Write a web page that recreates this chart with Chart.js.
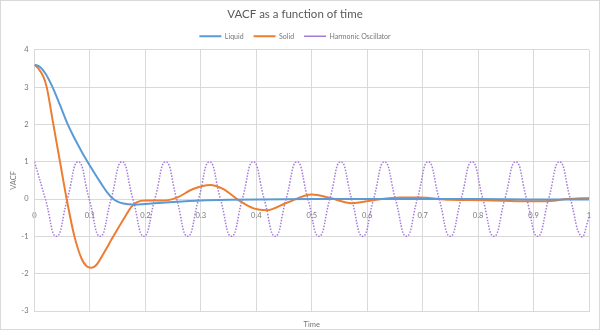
<!DOCTYPE html>
<html lang="en">
<head>
    <meta charset="UTF-8">
    <title>VACF as a function of time</title>
    <script src="https://cdn.jsdelivr.net/npm/chart.js"></script>
    <style>
        body { margin: 0; background: #fff; }
        #moldura { width: 600px; height: 330px; border: 1px solid #d9d9d9; box-sizing: border-box; }
    </style>
</head>
<body>
    <div id="moldura">
        <canvas id="grafico1" width="598" height="328"></canvas>
    </div>

    <script>
        // Liquid
        const liquidTime = [0, 0.01, 0.02, 0.03, 0.04, 0.05, 0.06, 0.07, 0.08, 0.09, 0.1, 0.11, 0.12, 0.13, 0.14, 0.15, 0.16, 0.17, 0.18, 0.2, 0.25, 0.3, 0.35, 0.4, 0.5, 0.6, 0.7, 0.8, 0.9, 1.0]
        const liquidVacf = [3.6, 3.54, 3.36, 3.08, 2.74, 2.37, 2.0, 1.69, 1.41, 1.14, 0.89, 0.65, 0.42, 0.2, 0.03, -0.07, -0.12, -0.14, -0.15, -0.13, -0.08, -0.04, -0.02, -0.01, 0, 0, 0, 0, -0.01, -0.01]

        // Solid
        const solidTime = [0, 0.007, 0.016, 0.022, 0.034, 0.046, 0.058, 0.072, 0.085, 0.094, 0.103, 0.112, 0.121, 0.13, 0.139, 0.15, 0.163, 0.175, 0.185, 0.2, 0.232, 0.257, 0.286, 0.317, 0.34, 0.37, 0.395, 0.419, 0.455, 0.5, 0.533, 0.572, 0.611, 0.66, 0.695, 0.75, 0.81, 0.89, 0.93, 0.96, 1.0]
        const solidVacf = [3.6, 3.5, 3.28, 3.0, 2.0, 1.0, 0.0, -1.0, -1.6, -1.8, -1.84, -1.76, -1.55, -1.32, -1.08, -0.8, -0.48, -0.2, -0.08, -0.04, -0.04, 0.04, 0.27, 0.38, 0.27, -0.05, -0.25, -0.3, -0.1, 0.12, 0.03, -0.11, -0.03, 0.04, 0.04, -0.02, -0.03, -0.06, -0.05, 0, 0.03]

        // Harmonic Oscillator (peaks, zeros and troughs)
        const oscTime = [0, 0.0197, 0.0395, 0.0592, 0.0789, 0.0986, 0.1184, 0.1381, 0.1578, 0.1775,
            0.1973, 0.2170, 0.2367, 0.2564, 0.2762, 0.2959, 0.3156, 0.3353, 0.3551, 0.3748,
            0.3945, 0.4142, 0.4340, 0.4537, 0.4734, 0.4931, 0.5129, 0.5326, 0.5523, 0.5720,
            0.5918, 0.6115, 0.6312, 0.6509, 0.6707, 0.6904, 0.7101, 0.7298, 0.7496, 0.7693,
            0.7890, 0.8087, 0.8285, 0.8482, 0.8679, 0.8876, 0.9074, 0.9271, 0.9468, 0.9665,
            0.9863, 1.0]
        const oscValue = [1, 0, -1, 0, 1, 0, -1, 0, 1, 0,
            -1, 0, 1, 0, -1, 0, 1, 0, -1, 0,
            1, 0, -1, 0, 1, 0, -1, 0, 1, 0,
            -1, 0, 1, 0, -1, 0, 1, 0, -1, 0,
            1, 0, -1, 0, 1, 0, -1, 0, 1, 0,
            -1, -0.5]

        const xTicks = [0, 0.1, 0.2, 0.3, 0.4, 0.5, 0.6, 0.7, 0.8, 0.9, 1]
        const yTicks = [-3, -2, -1, 0, 1, 2, 3, 4]

        const pares = (xs, ys) => xs.map((x, i) => ({x: x, y: ys[i]}))

        const fonte = "Lato, 'Open Sans', sans-serif"
        const cinza = '#d9d9d9'
        const texto = '#767676'

        const ctx = document.getElementById("grafico1")

        let grafico1 = new Chart(ctx, {
          type: 'line',
          data: {
            datasets: [{
              label: 'Liquid',
              data: pares(liquidTime, liquidVacf),
              borderColor: '#5b9bd5',
              borderWidth: 2,
              cubicInterpolationMode: 'monotone',
              pointRadius: 0
            }, {
              label: 'Solid',
              data: pares(solidTime, solidVacf),
              borderColor: '#ed7d31',
              borderWidth: 2,
              cubicInterpolationMode: 'monotone',
              pointRadius: 0
            }, {
              label: 'Harmonic Oscillator',
              data: pares(oscTime, oscValue),
              borderColor: '#a47ad8',
              borderWidth: 1.5,
              borderDash: [1.5, 1.5],
              tension: 0.5,
              pointRadius: 0
            }]
          },
          options: {
            responsive: false,
            animation: false,
            layout: { padding: { top: 0, right: 10, left: 0, bottom: 0 } },
            plugins: {
              title: {
                display: true,
                text: 'VACF as a function of time',
                color: '#595959',
                font: { family: fonte, size: 11.5, weight: 'normal' },
                padding: { top: 6, bottom: 2 }
              },
              legend: {
                labels: {
                  usePointStyle: true,
                  pointStyle: 'line',
                  pointStyleWidth: 22,
                  color: texto,
                  padding: 10,
                  font: { family: fonte, size: 7 }
                }
              },
              tooltip: { enabled: false }
            },
            scales: {
              x: {
                type: 'linear',
                min: 0,
                max: 1,
                position: 'bottom',
                afterBuildTicks: s => { s.ticks = xTicks.map(v => ({value: v})) },
                afterFit: s => { s.height = 18 },
                grid: { color: cinza, drawTicks: false },
                border: { color: cinza },
                ticks: { display: false },
                title: {
                  display: true,
                  text: 'Time',
                  color: texto,
                  font: { family: fonte, size: 7.5 },
                  padding: { top: 3, bottom: 0 }
                }
              },
              x2: {
                type: 'linear',
                min: 0,
                max: 1,
                position: { y: 0 },
                afterBuildTicks: s => { s.ticks = xTicks.map(v => ({value: v})) },
                grid: { display: false },
                border: { display: false },
                ticks: {
                  color: texto,
                  font: { family: fonte, size: 7.5 },
                  padding: 4,
                  maxRotation: 0,
                  autoSkip: false,
                  callback: v => String(+v.toFixed(1))
                }
              },
              y: {
                min: -3,
                max: 4,
                afterBuildTicks: s => { s.ticks = yTicks.map(v => ({value: v})) },
                afterFit: s => { s.width = 33.5 },
                grid: { color: cinza, drawTicks: false },
                border: { color: cinza },
                ticks: {
                  color: texto,
                  font: { family: fonte, size: 7.5 },
                  padding: 6
                },
                title: {
                  display: true,
                  text: 'VACF',
                  color: texto,
                  font: { family: fonte, size: 7.5 },
                  padding: { top: 8, bottom: 0 }
                }
              }
            }
          }
        })
      </script>
</body>
</html>
